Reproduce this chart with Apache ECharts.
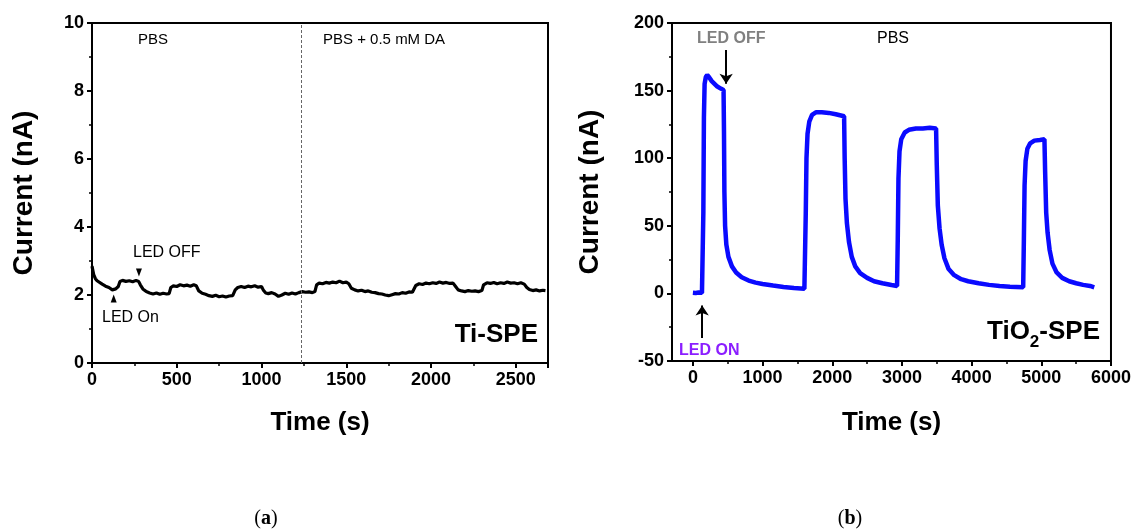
<!DOCTYPE html>
<html>
<head>
<meta charset="utf-8">
<script src="https://cdn.jsdelivr.net/npm/echarts@6/dist/echarts.min.js"></script>
<style>
  html, body { margin: 0; padding: 0; background: #fff; }
  #chart { width: 1134px; height: 531px; }
</style>
</head>
<body>
<div id="chart"></div>
<script>
// (a) Ti-SPE, PBS then PBS + 0.5 mM DA
const tiTime = [0, 10, 20, 30, 40, 60, 80, 100, 120, 140, 155, 165, 180, 200, 220, 240, 260, 275, 285, 300,
  320, 340, 360, 380, 400, 420, 440, 455, 465, 480, 500, 520, 540, 560, 580, 600, 615, 630, 650, 670,
  690, 710, 730, 750, 770, 790, 810, 830, 845, 860, 880, 900, 920, 940, 960, 980, 1000, 1010, 1025, 1040,
  1060, 1080, 1100, 1110, 1120, 1140, 1160, 1180, 1200, 1220, 1240, 1260, 1280, 1300, 1315, 1325, 1340, 1360, 1380, 1400,
  1420, 1440, 1460, 1480, 1500, 1515, 1530, 1550, 1570, 1590, 1610, 1630, 1650, 1670, 1690, 1710, 1730, 1750, 1770, 1790,
  1810, 1830, 1850, 1870, 1890, 1900, 1910, 1930, 1950, 1970, 1990, 2010, 2030, 2050, 2070, 2090, 2110, 2130, 2145, 2160,
  2180, 2200, 2220, 2240, 2260, 2280, 2300, 2310, 2330, 2350, 2370, 2390, 2410, 2430, 2450, 2470, 2490, 2510, 2530, 2550,
  2565, 2580, 2600, 2620, 2640, 2660, 2675];
const tiCurrent = [2.85, 2.6, 2.48, 2.42, 2.38, 2.32, 2.26, 2.22, 2.15, 2.18, 2.25, 2.40, 2.43, 2.40, 2.42, 2.39, 2.43, 2.40, 2.30, 2.18,
  2.10, 2.06, 2.03, 2.06, 2.02, 2.05, 2.03, 2.04, 2.22, 2.27, 2.25, 2.30, 2.27, 2.29, 2.26, 2.30, 2.27, 2.12, 2.05, 2.02,
  1.98, 1.96, 1.99, 1.95, 1.97, 1.94, 1.97, 1.98, 2.15, 2.22, 2.25, 2.22, 2.26, 2.24, 2.27, 2.23, 2.25, 2.15, 2.06, 2.04,
  2.07, 2.03, 1.96, 1.93, 2.00, 2.05, 2.02, 2.06, 2.03, 2.07, 2.10, 2.08, 2.09, 2.07, 2.10, 2.30, 2.35, 2.33, 2.37, 2.35,
  2.38, 2.36, 2.41, 2.36, 2.38, 2.33, 2.20, 2.15, 2.12, 2.14, 2.10, 2.12, 2.08, 2.07, 2.04, 2.03, 2.00, 1.98, 2.01, 2.04,
  2.03, 2.07, 2.05, 2.09, 2.08, 2.10, 2.28, 2.33, 2.31, 2.35, 2.33, 2.36, 2.34, 2.38, 2.35, 2.37, 2.34, 2.35, 2.25, 2.15,
  2.12, 2.10, 2.13, 2.11, 2.12, 2.10, 2.13, 2.30, 2.36, 2.34, 2.37, 2.33, 2.36, 2.34, 2.38, 2.35, 2.36, 2.33, 2.36, 2.32,
  2.22, 2.16, 2.13, 2.15, 2.12, 2.14, 2.13];
const daAddTime = 1236;

// (b) TiO2-SPE in PBS
const tio2Time = [0, 40, 80, 130, 143, 150, 158, 168, 185, 205, 230, 270, 310, 350, 400, 440, 446, 452, 462, 480,
  510, 560, 620, 700, 800, 900, 1000, 1150, 1300, 1450, 1600, 1612, 1620, 1630, 1645, 1670, 1710, 1770, 1850, 1950,
  2050, 2170, 2178, 2190, 2210, 2240, 2280, 2330, 2400, 2500, 2600, 2720, 2850, 2930, 2940, 2950, 2965, 2990, 3040, 3100,
  3200, 3300, 3400, 3490, 3500, 3515, 3540, 3570, 3610, 3670, 3750, 3850, 3950, 4100, 4250, 4400, 4550, 4740, 4750, 4760,
  4775, 4800, 4840, 4900, 4980, 5045, 5055, 5070, 5090, 5120, 5160, 5220, 5300, 5400, 5500, 5600, 5700, 5760];
const tio2Current = [0.5, 0.3, 0.6, 0.4, 1, 60, 130, 155, 160, 161.5, 160, 157, 155, 153, 151.5, 150.5, 120, 75, 50, 36,
  27, 20, 15.5, 12, 9.5, 8, 7, 5.8, 4.8, 4, 3.5, 4, 60, 100, 118, 127, 132, 134, 134, 133.5,
  132.5, 131, 100, 70, 52, 38, 27, 20, 15, 11.5, 9, 7.5, 6.2, 5.5, 40, 85, 105, 114, 119, 121,
  122, 122, 122.5, 122, 95, 65, 48, 36, 26, 18, 13.5, 10.5, 9, 7.5, 6.3, 5.5, 5, 4.5, 40, 80,
  98, 107, 111, 113, 113.5, 114, 90, 60, 45, 32, 22, 15.5, 11.5, 9, 7.5, 6.3, 5.5, 4.5];
const tio2XLabels = [0, 1000, 2000, 3000, 4000, 5000, 6000];
const tio2XMinor = [500, 1500, 2500, 3500, 4500, 5500];
const ledOffArrow = [477, 180, 155];
const ledOnArrow = [133, -33, -9];

const font = "'Liberation Sans', Arial, sans-serif";
const chart = echarts.init(document.getElementById("chart"));

function axisBase() {
  return {
    axisLine: { show: true, onZero: false, lineStyle: { color: "#000", width: 2 } },
    axisTick: { show: true, length: 5, lineStyle: { color: "#000", width: 2 } },
    minorTick: { show: true, splitNumber: 2, length: 3, lineStyle: { color: "#000", width: 1.5 } },
    axisLabel: {
      color: "#000", fontFamily: font, fontWeight: "bold", fontSize: 18,
      formatter: function (v) { return String(v); },
    },
    splitLine: { show: false },
    nameTextStyle: { color: "#000", fontFamily: font, fontWeight: "bold", fontSize: 26 },
  };
}

function txt(x, y, text, size, weight, color, align) {
  return {
    type: "text",
    x: x,
    y: y,
    style: {
      text: text,
      fontFamily: font,
      fontSize: size,
      fontWeight: weight,
      fill: color,
      align: align || "left",
      verticalAlign: "middle",
    },
  };
}

// widths for placing the subscript in "TiO2-SPE"
const ctx = document.createElement("canvas").getContext("2d");
ctx.font = "bold 26px 'Liberation Sans'";
const wSpe = ctx.measureText("-SPE").width;
ctx.font = "bold 17px 'Liberation Sans'";
const wSub = ctx.measureText("2").width;
const tio2Right = 1100;

const option = {
  animation: false,
  backgroundColor: "#fff",
  grid: [
    { left: 92, top: 23, width: 456, height: 340, show: true, borderColor: "#000", borderWidth: 2 },
    { left: 672, top: 23, width: 440, height: 338, show: true, borderColor: "#000", borderWidth: 2 },
  ],
  xAxis: [
    Object.assign(axisBase(), {
      gridIndex: 0, type: "value", min: 0, max: 2690, interval: 500,
      name: "Time (s)", nameLocation: "middle", nameGap: 47,
    }),
    Object.assign(axisBase(), {
      gridIndex: 1, type: "value", min: -300, max: 6000,
      name: "Time (s)", nameLocation: "middle", nameGap: 49,
      minorTick: { show: false },
    }),
    {
      gridIndex: 1, type: "value", min: -300, max: 6000, position: "bottom",
      axisLine: { show: false, onZero: false },
      axisTick: { show: true, length: 3, customValues: tio2XMinor, lineStyle: { color: "#000", width: 1.5 } },
      axisLabel: { show: false },
      splitLine: { show: false },
    },
  ],
  yAxis: [
    Object.assign(axisBase(), {
      gridIndex: 0, type: "value", min: 0, max: 10, interval: 2,
      name: "Current (nA)", nameLocation: "middle", nameGap: 54,
    }),
    Object.assign(axisBase(), {
      gridIndex: 1, type: "value", min: -50, max: 200, interval: 50,
      name: "Current (nA)", nameLocation: "middle", nameGap: 68,
    }),
  ],
  series: [
    {
      type: "line",
      xAxisIndex: 0,
      yAxisIndex: 0,
      data: tiTime.map((t, i) => [t, tiCurrent[i]]),
      showSymbol: false,
      lineStyle: { color: "#000", width: 3.2 },
      itemStyle: { color: "#000" },
      markLine: {
        silent: true,
        symbol: "none",
        label: { show: false },
        lineStyle: { color: "#666", type: [3, 2], width: 1 },
        data: [{ xAxis: daAddTime }],
      },
      markPoint: {
        silent: true,
        label: { show: false },
        itemStyle: { color: "#000" },
        data: [
          { coord: [128, 1.9], symbol: "triangle", symbolSize: [6, 8] },
          { coord: [277, 2.66], symbol: "triangle", symbolRotate: 180, symbolSize: [6, 8] },
        ],
      },
    },
    {
      type: "line",
      xAxisIndex: 1,
      yAxisIndex: 1,
      data: tio2Time.map((t, i) => [t, tio2Current[i]]),
      showSymbol: false,
      lineStyle: { color: "#0a0aff", width: 4.5 },
      itemStyle: { color: "#0a0aff" },
      markLine: {
        silent: true,
        symbol: ["none", "arrow"],
        symbolSize: 10,
        label: { show: false },
        lineStyle: { color: "#000", type: "solid", width: 2 },
        data: [
          [{ coord: [ledOffArrow[0], ledOffArrow[1]] }, { coord: [ledOffArrow[0], ledOffArrow[2]] }],
          [{ coord: [ledOnArrow[0], ledOnArrow[1]] }, { coord: [ledOnArrow[0], ledOnArrow[2]] }],
        ],
      },
    },
  ],
  graphic: [
    txt(138, 40, "PBS", 15, "normal", "#000"),
    txt(323, 40, "PBS + 0.5 mM DA", 15, "normal", "#000"),
    txt(133, 253, "LED OFF", 16, "normal", "#000"),
    txt(102, 318, "LED On", 16, "normal", "#000"),
    txt(538, 335, "Ti-SPE", 26, "bold", "#000", "right"),
    txt(697, 39, "LED OFF", 16, "bold", "#808080"),
    txt(877, 39, "PBS", 16, "normal", "#000"),
    txt(679, 351, "LED ON", 16, "bold", "#8b1eff"),
    txt(tio2Right, 332, "-SPE", 26, "bold", "#000", "right"),
    txt(tio2Right - wSpe, 342, "2", 17, "bold", "#000", "right"),
    txt(tio2Right - wSpe - wSub, 332, "TiO", 26, "bold", "#000", "right"),
    {
      type: "text", x: 266, y: 519,
      style: {
        text: "({b|a})", align: "center", verticalAlign: "middle",
        fontFamily: "'Liberation Serif', serif", fontSize: 20, fill: "#000",
        rich: { b: { fontFamily: "'Liberation Serif', serif", fontSize: 20, fontWeight: "bold", fill: "#000" } },
      },
    },
    {
      type: "text", x: 850, y: 519,
      style: {
        text: "({b|b})", align: "center", verticalAlign: "middle",
        fontFamily: "'Liberation Serif', serif", fontSize: 20, fill: "#000",
        rich: { b: { fontFamily: "'Liberation Serif', serif", fontSize: 20, fontWeight: "bold", fill: "#000" } },
      },
    },
  ],
};

// axis titles of the current axes are a touch larger than the time titles
option.yAxis[0].nameTextStyle.fontSize = 28;
option.yAxis[1].nameTextStyle.fontSize = 28;
// right panel: ticks at round thousands while the axis starts at -300
option.xAxis[1].axisLabel.customValues = tio2XLabels;
option.xAxis[1].axisTick.customValues = tio2XLabels;

chart.setOption(option);
window.addEventListener("resize", function () {
  chart.resize();
});
</script>
</body>
</html>
